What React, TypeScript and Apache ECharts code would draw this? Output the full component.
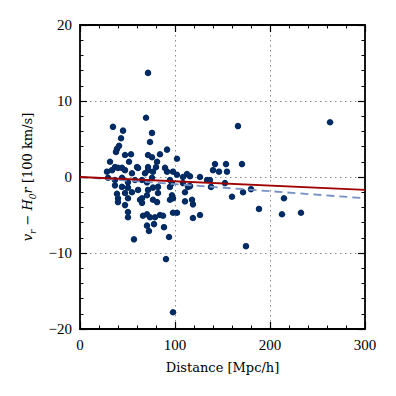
import React, { useEffect, useRef } from "react";
import * as echarts from "echarts";

const distance = [
  71.6, 69.5, 34.7, 45.3, 75.8, 43.2, 73.7, 41.1, 38.9, 37.9, 91.6, 47.4, 53.7, 71.6, 75.8, 84.2,
  31.6, 51.6, 81.1, 102.1, 36.8, 44.2, 60.0, 71.6, 80.0, 89.5, 33.7, 40.0, 47.4, 54.7, 61.1, 71.6,
  68.4, 76.8, 91.6, 97.9, 102.1, 112.6, 29.5, 36.8, 44.2, 50.5, 57.9, 65.3, 75.8, 36.8, 44.2, 50.5,
  70.5, 108.4, 115.8, 126.3, 133.7, 136.8, 94.7, 96.8, 108.4, 115.8, 94.7, 61.1, 38.9, 40.0, 47.4,
  54.7, 71.6, 76.8, 82.1, 70.5, 82.1, 96.8, 97.9, 110.5, 113.7, 65.3, 50.5, 63.2, 47.4, 40.0, 65.3,
  81.1, 76.8, 94.7, 110.5, 117.9, 118.9, 50.5, 50.5, 66.3, 70.5, 73.7, 78.9, 84.2, 87.4, 97.9, 102.1,
  118.9, 126.3, 70.5, 72.6, 77.9, 88.4, 56.8, 93.7, 90.5, 97.9, 137.9, 142.1, 153.7, 140.0, 146.3,
  154.7, 170.5, 152.6, 160.0, 166.3, 171.6, 180.0, 188.4, 174.7, 214.7, 212.6, 232.6, 263.2, 28.4,
];
const velocity = [
  13.7, 7.8, 6.6, 6.1, 5.8, 5.1, 4.6, 4.1, 3.7, 3.3, 3.6, 2.9, 3.0, 2.9, 2.6, 3.0,
  2.0, 2.0, 2.0, 2.4, 1.3, 1.2, 1.3, 1.3, 1.3, 1.2, 0.9, 1.2, 0.9, 0.5, 1.2, 0.9,
  0.5, 0.7, 0.7, 0.7, 0.3, 0.4, -0.1, -0.4, -0.1, -0.7, -0.4, -0.4, -0.1, -1.1, -1.3, -1.4,
  -0.7, 0.0, 0.1, 0.0, -0.4, -0.4, -0.4, -0.8, -0.8, -1.2, -1.3, -1.7, -2.2, -2.8, -2.1,
  -2.0, -1.7, -1.4, -1.3, -2.4, -2.1, -2.4, -2.8, -2.0, -1.3, -2.8, -2.8, -3.0, -3.7, -3.3, -3.4,
  -3.3, -3.0, -3.0, -3.2, -3.0, -3.6, -4.6, -5.3, -5.1, -4.9, -5.3, -5.3, -5.0, -5.1, -4.7, -4.7,
  -5.4, -5.0, -6.4, -7.1, -6.2, -6.6, -8.2, -7.9, -10.8, -17.8, -1.3, 1.7, 1.7, 0.9, 0.7,
  0.7, 1.7, -0.8, -2.6, 6.7, -2.0, -1.6, -4.2, -9.1, -2.8, -4.9, -4.7, 7.2, 0.7,
];
const fitSolidX = [0, 300];
const fitSolidY = [0, -1.7];
const fitDashedX = [0, 300];
const fitDashedY = [0, -2.8];
const xTicks = [0, 100, 200, 300];
const yTicks = [-20, -10, 0, 10, 20];

const FONT = "Liberation Serif";
const NAME_FONT = "DejaVu Serif";

export default function App() {
  const ref = useRef<HTMLDivElement>(null);
  useEffect(() => {
    if (!ref.current) return;
    const chart = echarts.init(ref.current, null, { renderer: "svg" });
    const axisCommon = {
      axisLine: { show: true, onZero: false, lineStyle: { color: "#000", width: 1.8 } },
      axisTick: { show: true, inside: true, length: 7, lineStyle: { color: "#000", width: 1.2 } },
      minorTick: { show: true, splitNumber: 5, length: 3.5, lineStyle: { color: "#000", width: 1 } },
    };
    const fmt = (v: number) => String(v).replace("-", "\u2212");
    chart.setOption({
      animation: false,
      backgroundColor: "#fff",
      grid: { left: 80, right: 31, top: 25, bottom: 67, containLabel: false },
      xAxis: [
        {
          ...axisCommon,
          type: "value",
          min: xTicks[0],
          max: xTicks[xTicks.length - 1],
          interval: 100,
          position: "bottom",
          name: "Distance [Mpc/h]",
          nameLocation: "middle",
          nameGap: 32,
          nameTextStyle: { fontFamily: NAME_FONT, fontSize: 13, color: "#000" },
          axisLabel: { fontFamily: FONT, fontSize: 15, color: "#000", margin: 8, formatter: fmt },
          splitLine: { show: true, lineStyle: { color: "#888", type: [1.5, 3.5], width: 1 } },
        },
        {
          ...axisCommon,
          type: "value",
          min: xTicks[0],
          max: xTicks[xTicks.length - 1],
          interval: 100,
          position: "top",
          axisLabel: { show: false },
          splitLine: { show: false },
        },
      ],
      yAxis: [
        {
          ...axisCommon,
          type: "value",
          min: yTicks[0],
          max: yTicks[yTicks.length - 1],
          interval: 10,
          position: "left",
          name: "{i|v}{s|r}{n| \u2212 }{i|H}{s|0}{i|r}{n| [100 km/s]}",
          nameLocation: "middle",
          nameRotate: 90,
          nameGap: 39,
          nameTextStyle: {
            fontFamily: NAME_FONT,
            fontSize: 13,
            color: "#000",
            rich: {
              i: { fontFamily: NAME_FONT, fontSize: 13, fontStyle: "italic", color: "#000", lineHeight: 20, verticalAlign: "middle" },
              n: { fontFamily: NAME_FONT, fontSize: 13, color: "#000", lineHeight: 20, verticalAlign: "middle" },
              s: { fontFamily: NAME_FONT, fontSize: 9, fontStyle: "italic", color: "#000", lineHeight: 20, verticalAlign: "bottom", padding: [6, 0, 0, 0] },
            },
          },
          axisLabel: { fontFamily: FONT, fontSize: 15, color: "#000", margin: 8, formatter: fmt },
          splitLine: { show: true, lineStyle: { color: "#888", type: [1.5, 3.5], width: 1 } },
        },
        {
          ...axisCommon,
          type: "value",
          min: yTicks[0],
          max: yTicks[yTicks.length - 1],
          interval: 10,
          position: "right",
          axisLabel: { show: false },
          splitLine: { show: false },
        },
      ],
      series: [
        {
          type: "scatter",
          data: distance.map((d, i) => [d, velocity[i]]),
          symbolSize: 6.5,
          itemStyle: { color: "#032b63", opacity: 1 },
          z: 2,
        },
        {
          type: "line",
          data: fitDashedX.map((x, i) => [x, fitDashedY[i]]),
          showSymbol: false,
          lineStyle: { color: "#7590c4", width: 1.8, type: [8, 5] },
          z: 3,
        },
        {
          type: "line",
          data: fitSolidX.map((x, i) => [x, fitSolidY[i]]),
          showSymbol: false,
          lineStyle: { color: "#a00000", width: 1.8 },
          z: 4,
        },
      ],
    });
    return () => chart.dispose();
  }, []);
  return <div ref={ref} style={{ position: "fixed", left: 0, top: 0, width: 396, height: 396 }} />;
}
